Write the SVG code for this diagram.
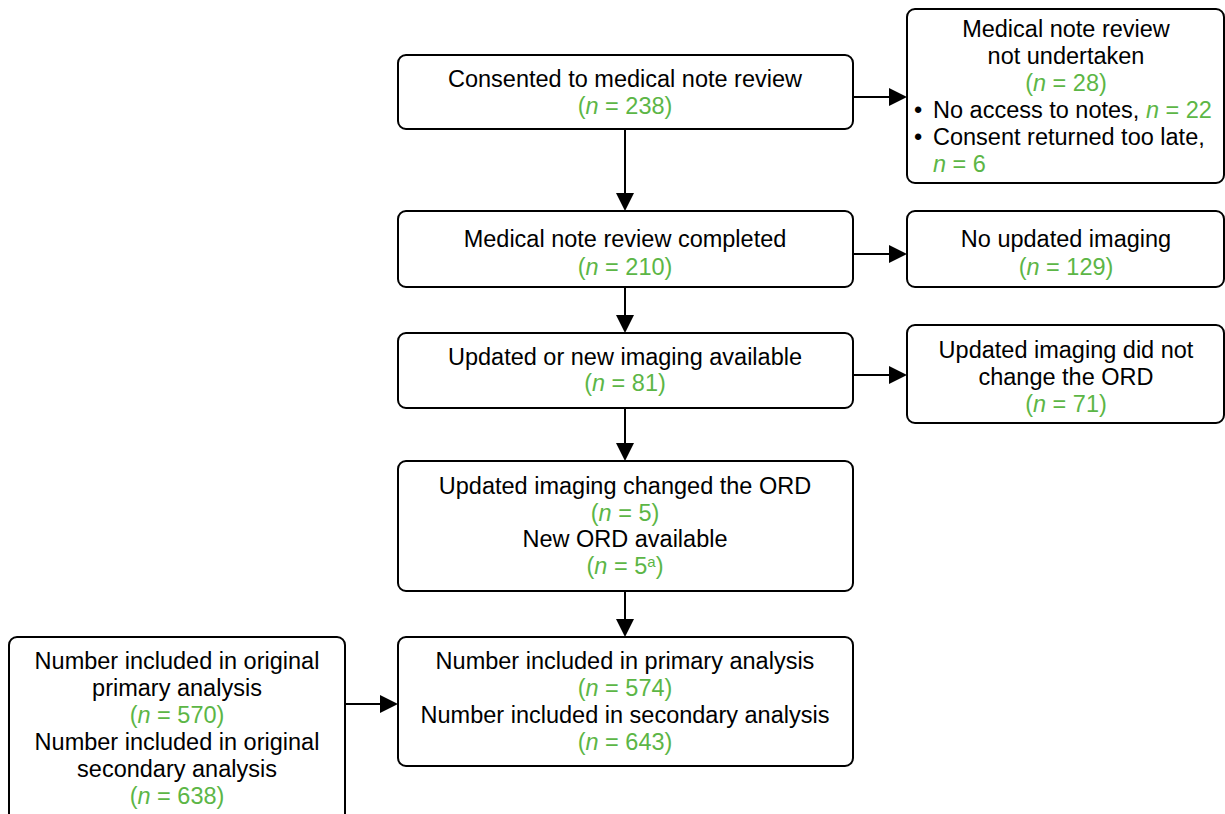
<svg xmlns="http://www.w3.org/2000/svg" width="1225" height="814" viewBox="0 0 1225 814">
<defs>
<style>
.box{fill:#fff;stroke:#000;stroke-width:2}
text{font-family:"Liberation Sans","Noto Sans",sans-serif;font-size:23.5px;fill:#000;text-anchor:middle}
.g{fill:#5cb646}
.i{font-style:italic}
.l{text-anchor:start}
.c{stroke:#000;stroke-width:2;fill:none}
</style>
</defs>
<g id="connectors">
<path class="c" d="M625,129 V199"/>
<polygon points="616,193 634,193 625,211" fill="#000"/>
<path class="c" d="M625,287 V321"/>
<polygon points="616,315 634,315 625,333" fill="#000"/>
<path class="c" d="M625,408 V449"/>
<polygon points="616,443 634,443 625,461" fill="#000"/>
<path class="c" d="M625,591 V625"/>
<polygon points="616,619 634,619 625,637" fill="#000"/>
<path class="c" d="M853,97 H895"/>
<polygon points="889,88 889,106 907,97" fill="#000"/>
<path class="c" d="M853,254 H895"/>
<polygon points="889,245 889,263 907,254" fill="#000"/>
<path class="c" d="M853,375 H895"/>
<polygon points="889,366 889,384 907,375" fill="#000"/>
<path class="c" d="M345,704 H386"/>
<polygon points="380,695 380,713 398,704" fill="#000"/>
</g>
<g id="n1">
<rect class="box" x="398" y="55" width="455" height="74" rx="8"/>
<text x="625" y="87">Consented to medical note review</text>
<text x="625" y="114" class="g">(<tspan class="i">n</tspan> = 238)</text>
</g>
<g id="n1r">
<rect class="box" x="907" y="9" width="317" height="174" rx="8"/>
<text x="1066" y="37">Medical note review</text>
<text x="1066" y="64">not undertaken</text>
<text x="1066" y="91" class="g">(<tspan class="i">n</tspan> = 28)</text>
<text x="914" y="118" class="l">•</text>
<text x="933" y="118" class="l">No access to notes, <tspan class="g"><tspan class="i">n</tspan> = 22</tspan></text>
<text x="914" y="145" class="l">•</text>
<text x="933" y="145" class="l">Consent returned too late,</text>
<text x="933" y="172" class="l g"><tspan class="i">n</tspan> = 6</text>
</g>
<g id="n2">
<rect class="box" x="398" y="211" width="455" height="76" rx="8"/>
<text x="625" y="247">Medical note review completed</text>
<text x="625" y="275" class="g">(<tspan class="i">n</tspan> = 210)</text>
</g>
<g id="n2r">
<rect class="box" x="907" y="211" width="317" height="76" rx="8"/>
<text x="1066" y="247">No updated imaging</text>
<text x="1066" y="275" class="g">(<tspan class="i">n</tspan> = 129)</text>
</g>
<g id="n3">
<rect class="box" x="398" y="333" width="455" height="75" rx="8"/>
<text x="625" y="365">Updated or new imaging available</text>
<text x="625" y="391" class="g">(<tspan class="i">n</tspan> = 81)</text>
</g>
<g id="n3r">
<rect class="box" x="907" y="325" width="317" height="98" rx="8"/>
<text x="1066" y="358">Updated imaging did not</text>
<text x="1066" y="385">change the ORD</text>
<text x="1066" y="412" class="g">(<tspan class="i">n</tspan> = 71)</text>
</g>
<g id="n4">
<rect class="box" x="398" y="461" width="455" height="130" rx="8"/>
<text x="625" y="494">Updated imaging changed the ORD</text>
<text x="625" y="521" class="g">(<tspan class="i">n</tspan> = 5)</text>
<text x="625" y="547">New ORD available</text>
<text x="625" y="574" class="g">(<tspan class="i">n</tspan> = 5<tspan font-size="15" dy="-7">a</tspan><tspan dy="7">)</tspan></text>
</g>
<g id="n5">
<rect class="box" x="398" y="637" width="455" height="129" rx="8"/>
<text x="625" y="669">Number included in primary analysis</text>
<text x="625" y="696" class="g">(<tspan class="i">n</tspan> = 574)</text>
<text x="625" y="723">Number included in secondary analysis</text>
<text x="625" y="750" class="g">(<tspan class="i">n</tspan> = 643)</text>
</g>
<g id="n6">
<rect class="box" x="9" y="637" width="336" height="185" rx="8"/>
<text x="177" y="669">Number included in original</text>
<text x="177" y="696">primary analysis</text>
<text x="177" y="723" class="g">(<tspan class="i">n</tspan> = 570)</text>
<text x="177" y="750">Number included in original</text>
<text x="177" y="777">secondary analysis</text>
<text x="177" y="804" class="g">(<tspan class="i">n</tspan> = 638)</text>
</g>
</svg>
